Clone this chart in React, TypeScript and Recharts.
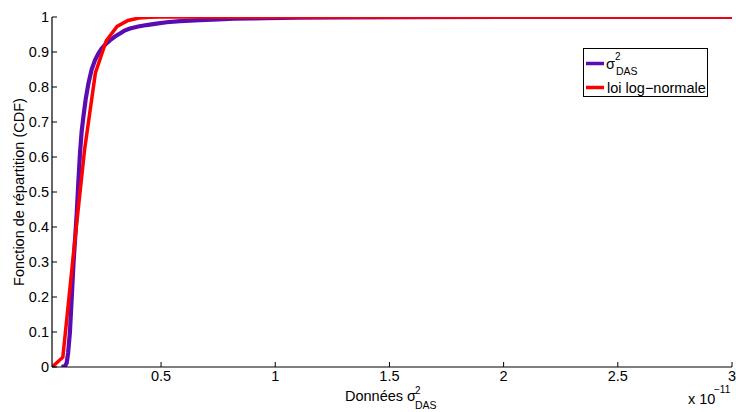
import React from 'react';
import { LineChart, Line, XAxis, YAxis } from 'recharts';

// Empirical CDF of sigma^2_DAS (x in units of 1e-11)
const sigmaX = [0.065, 0.08, 0.087, 0.093, 0.101, 0.109, 0.117, 0.124, 0.131, 0.138, 0.145, 0.152, 0.16, 0.17, 0.182, 0.196, 0.211, 0.225, 0.24, 0.26, 0.277, 0.3, 0.32, 0.34, 0.364, 0.4, 0.437, 0.48, 0.525, 0.583, 0.67, 0.75, 0.82, 0.9, 0.96, 1.1, 1.3, 1.6, 2.0, 3.0];
const sigmaY = [0, 0.003, 0.012, 0.04, 0.1, 0.2, 0.3, 0.37, 0.44, 0.53, 0.61, 0.67, 0.715, 0.765, 0.81, 0.85, 0.877, 0.895, 0.91, 0.924, 0.934, 0.945, 0.953, 0.961, 0.967, 0.973, 0.977, 0.981, 0.985, 0.988, 0.991, 0.993, 0.995, 0.996, 0.997, 0.998, 0.999, 0.9995, 1, 1];

// Fitted log-normal CDF
const lognX = [0.0225, 0.07, 0.1175, 0.165, 0.2125, 0.26, 0.3075, 0.355, 0.4025, 0.45, 0.4975, 3.0];
const lognY = [0, 0.028, 0.33, 0.62, 0.84, 0.932, 0.973, 0.99, 0.997, 0.999, 1, 1];

const xTicks = [0.5, 1, 1.5, 2, 2.5, 3];
const yTicks = [0, 0.1, 0.2, 0.3, 0.4, 0.5, 0.6, 0.7, 0.8, 0.9, 1];
const xDomain = [0.0225, 3];
const yDomain = [0, 1];

const seriesNames = ['σ', 'loi log−normale'];
const xLabelText = 'Données σ';
const yLabelText = 'Fonction de répartition (CDF)';

const PURPLE = '#5a0cb4';
const RED = '#ff0000';
const FONT = '"Liberation Sans", Arial, Helvetica, sans-serif';
const FS = 14.5;
const TL = 5; // tick length (inward)
const XM = 4; // bottom tick margin
const YM = 3; // left tick margin

const sigmaData = sigmaX.map((x, i) => ({ x, y: sigmaY[i] }));
const lognData = lognX.map((x, i) => ({ x, y: lognY[i] }));

const BottomTick = (props: any) => {
  const { x, y, payload } = props;
  const ay = y - XM;
  return (
    <g>
      <line x1={x} x2={x} y1={ay} y2={ay - TL} stroke="#000" strokeWidth={1} />
      <text x={x} y={y} dy="0.71em" textAnchor="middle" fontSize={FS} fontFamily={FONT} fill="#000">
        {String(payload.value)}
      </text>
    </g>
  );
};

const TopTick = (props: any) => {
  const { x, y } = props;
  return <line x1={x} x2={x} y1={y} y2={y + TL} stroke="#000" strokeWidth={1} />;
};

const LeftTick = (props: any) => {
  const { x, y, payload } = props;
  const ax = x + YM;
  return (
    <g>
      <line x1={ax} x2={ax + TL} y1={y} y2={y} stroke="#000" strokeWidth={1} />
      <text x={x} y={y} dy="0.355em" textAnchor="end" fontSize={FS} fontFamily={FONT} fill="#000">
        {String(payload.value)}
      </text>
    </g>
  );
};

const RightTick = (props: any) => {
  const { x, y } = props;
  return <line x1={x} x2={x - TL} y1={y} y2={y} stroke="#000" strokeWidth={1} />;
};

export default function App() {
  return (
    <div style={{ position: 'absolute', left: 0, top: 0, width: 736, height: 412, background: '#fff' }}>
      <LineChart width={736} height={412} margin={{ top: 17, right: 4, left: 0, bottom: 0 }}>
        <XAxis
          xAxisId="bottom"
          dataKey="x"
          type="number"
          domain={xDomain}
          ticks={xTicks}
          allowDataOverflow
          height={45}
          tickSize={0}
          tickMargin={XM}
          tickLine={false}
          tick={BottomTick}
          axisLine={{ stroke: '#000', strokeWidth: 1.2 }}
        />
        <XAxis
          xAxisId="top"
          orientation="top"
          dataKey="x"
          type="number"
          domain={xDomain}
          ticks={xTicks}
          allowDataOverflow
          height={0}
          tickSize={0}
          tickMargin={0}
          tickLine={false}
          tick={TopTick}
          axisLine={{ stroke: '#000', strokeWidth: 1.2 }}
        />
        <YAxis
          yAxisId="left"
          dataKey="y"
          type="number"
          domain={yDomain}
          ticks={yTicks}
          allowDataOverflow
          width={52}
          tickSize={0}
          tickMargin={YM}
          tickLine={false}
          tick={LeftTick}
          axisLine={{ stroke: '#000', strokeWidth: 1.2 }}
        />
        <YAxis
          yAxisId="right"
          orientation="right"
          dataKey="y"
          type="number"
          domain={yDomain}
          ticks={yTicks}
          allowDataOverflow
          width={0}
          tickSize={0}
          tickMargin={0}
          tickLine={false}
          tick={RightTick}
          axisLine={{ stroke: '#000', strokeWidth: 1.2 }}
        />
        <Line
          xAxisId="bottom"
          yAxisId="left"
          data={sigmaData}
          dataKey="y"
          name={seriesNames[0]}
          stroke={PURPLE}
          strokeWidth={4.2}
          dot={false}
          isAnimationActive={false}
        />
        <Line
          xAxisId="bottom"
          yAxisId="left"
          data={lognData}
          dataKey="y"
          name={seriesNames[1]}
          stroke={RED}
          strokeWidth={3.5}
          dot={false}
          isAnimationActive={false}
        />
      </LineChart>
      <svg
        width={736}
        height={412}
        style={{ position: 'absolute', left: 0, top: 0, pointerEvents: 'none' }}
        fontFamily={FONT}
      >
        {/* x axis label */}
        <text x={345} y={401} fontSize={FS} fill="#000">{xLabelText}</text>
        <text x={415} y={394} fontSize={10} fill="#000">2</text>
        <text x={415} y={409} fontSize={10.5} fill="#000">DAS</text>
        {/* y axis label */}
        <text
          x={24}
          y={192}
          fontSize={FS}
          fill="#000"
          textAnchor="middle"
          transform="rotate(-90 24 192)"
        >
          {yLabelText}
        </text>
        {/* exponent */}
        <text x={688} y={404} fontSize={FS} fill="#000">x 10</text>
        <text x={714} y={393} fontSize={10} fill="#000">−11</text>
        {/* legend */}
        <rect x={583.5} y={48.5} width={124} height={48} fill="#fff" stroke="#000" strokeWidth={1} />
        <line x1={586} x2={604} y1={63.5} y2={63.5} stroke={PURPLE} strokeWidth={3.5} />
        <text x={606} y={69} fontSize={FS} fill="#000">{seriesNames[0]}</text>
        <text x={615} y={60} fontSize={10} fill="#000">2</text>
        <text x={616} y={75} fontSize={10.5} fill="#000">DAS</text>
        <line x1={586} x2={604} y1={87.5} y2={87.5} stroke={RED} strokeWidth={3.5} />
        <text x={607} y={93} fontSize={FS} fill="#000">{seriesNames[1]}</text>
      </svg>
    </div>
  );
}
